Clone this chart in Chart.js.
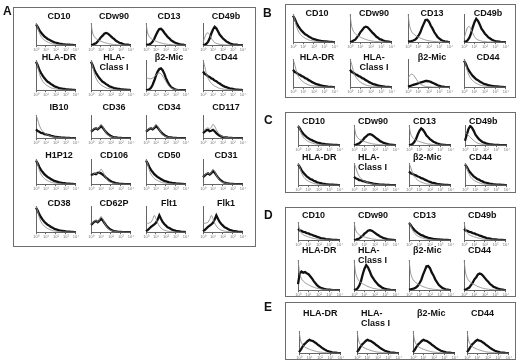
<!DOCTYPE html>
<html>
<head>
<meta charset="utf-8">
<script src="https://cdn.jsdelivr.net/npm/chart.js@4.4.0/dist/chart.umd.min.js"></script>
<style>
  body { margin: 0; background: #fff; width: 520px; height: 363px; position: relative; overflow: hidden; font-family: "Liberation Sans", Arial, sans-serif; }
  .box { position: absolute; border: 1px solid #6e6e6e; box-sizing: border-box; z-index: 0; }
  .letter { position: absolute; font-weight: bold; font-size: 12px; line-height: 12px; color: #111; z-index: 3; filter: grayscale(1); }
  .lbl { position: absolute; font-weight: bold; font-size: 9px; line-height: 10px; color: #111; white-space: pre; z-index: 3; filter: grayscale(1); }
  canvas { position: absolute; z-index: 1; }
</style>
</head>
<body>
<script>
// fluorescence channel bins (log decades)
const binLabels = ['10⁰','','','','','','10¹','','','','','','10²','','','','','','10³','','','','','','10⁴']

// isotype control curves (thin grey)
const isoDecay = [100, 80, 56, 40, 30, 23, 18, 14, 11, 8, 6, 5, 4, 3, 2.5, 2, 1.5, 1.2, 1, 0.8, 0.6, 0.4, 0.3, 0.2, 0]
const isoSpike = [100, 55, 38, 30, 25, 21, 18, 15, 12, 10, 8, 6, 5, 4, 3, 2.5, 2, 1.5, 1, 1, 0.8, 0.5, 0.4, 0.2, 0]
const isoHump = [12, 34, 52, 56, 46, 32, 20, 12, 8, 6, 4, 3, 2, 1.5, 1, 1, 0.8, 0.5, 0.4, 0.3, 0.2, 0.1, 0, 0, 0]
const isoPlateau = [42, 40, 38, 38, 40, 45, 50, 55, 57, 54, 47, 38, 28, 20, 13, 8, 5, 3, 2, 1, 0.5, 0, 0, 0, 0]
const isoBimodal = [30, 36, 42, 45, 40, 47, 60, 52, 37, 25, 16, 10, 7, 5, 3, 2, 1.5, 1, 0.5, 0.3, 0.2, 0, 0, 0, 0]
const isoFlt = [34, 34, 35, 38, 48, 64, 52, 35, 24, 16, 11, 8, 6, 4, 3, 2, 1.5, 1, 0.5, 0.3, 0, 0, 0, 0, 0]
const isoHumpLow = [30, 42, 46, 44, 36, 26, 18, 12, 8, 5, 3, 2, 1.5, 1, 0.5, 0.3, 0, 0, 0, 0, 0, 0, 0, 0, 0]
const isoDecayMid = [62, 57, 48, 40, 31, 23, 16, 11, 8, 6, 4, 3, 2, 1.5, 1, 0.8, 0.5, 0.3, 0.2, 0, 0, 0, 0, 0, 0]

// stained curves (thick black)
const posDecay = [94, 83, 68, 57, 48, 40, 34, 28, 25, 20, 17, 13, 11, 9, 7, 6, 4.5, 4, 3, 2.5, 2, 1.5, 1, 0.6, 0.3]
const posDecayBroad = [62, 54, 51, 46, 44, 39, 37, 32, 30, 25, 22, 18, 15, 12, 10, 8, 6, 5, 4, 3, 2, 1.5, 1, 0.6, 0.3]
const posDecayLow = [38, 31, 28, 23, 22, 18, 17, 14, 13, 10, 9, 7, 6, 5, 4, 3, 2.5, 2, 1.5, 1, 0.8, 0.5, 0.3, 0.2, 0]
const posPeak8 = [0, 2, 6, 9, 17, 25, 36, 43, 52, 55, 53, 47, 40, 33, 27, 20, 16, 11, 9, 6, 4, 3, 2, 1, 0.5]
const posPeak7 = [1, 2, 4, 8, 16, 29, 46, 61, 73, 74, 67, 56, 47, 37, 31, 23, 18, 13, 10, 7, 5, 3, 2, 1, 0.5]
const posPeak6 = [0, 2, 6, 15, 30, 53, 71, 83, 76, 63, 48, 39, 30, 24, 17, 13, 9, 6, 4, 3, 2, 1, 0.5, 0, 0]
const posPeak10 = [2, 3, 4, 6, 9, 14, 23, 34, 51, 65, 79, 80, 73, 59, 49, 36, 27, 18, 13, 8, 5, 3, 2, 1, 0.5]
const posPeakB = [0, 1, 3, 8, 18, 32, 48, 62, 70, 72, 66, 55, 40, 28, 18, 11, 7, 4, 2, 1, 0.5, 0, 0, 0, 0]
const posPeak3 = [22, 52, 80, 95, 87, 71, 52, 41, 30, 23, 16, 13, 9, 7, 5, 4, 3, 2, 1.5, 1, 0.5, 0.3, 0, 0, 0]
const posBimodal = [28, 34, 40, 43, 38, 44, 52, 46, 36, 27, 19, 14, 9, 6, 4, 3, 2, 1.5, 1, 0.5, 0.3, 0.2, 0, 0, 0]
const posBimodalLow = [22, 28, 34, 36, 30, 32, 36, 30, 22, 16, 11, 8, 5, 4, 3, 2, 1.5, 1, 0.5, 0.3, 0, 0, 0, 0, 0]
const posHumpLeft = [34, 39, 42, 40, 45, 46, 43, 38, 33, 26, 21, 15, 12, 8, 6, 4, 3, 2, 1.5, 1, 0.5, 0.3, 0, 0, 0]
const posFlt = [4, 8, 14, 20, 25, 30, 36, 48, 64, 51, 39, 31, 25, 19, 16, 12, 9, 7, 5, 4, 3, 2, 1.5, 1, 0.5]
const posBroadLow = [2, 4, 6, 8, 10, 12, 14, 16, 18, 20, 22, 22, 21, 19, 16, 13, 10, 7, 5, 3, 2, 1, 0.5, 0, 0]
const posPlateau = [20, 55, 62, 58, 60, 56, 53, 46, 39, 30, 23, 16, 11, 8, 6, 4, 3, 2, 1.5, 1, 0.5, 0.3, 0, 0, 0]
const posPeakE = [5, 15, 29, 40, 47, 55, 60, 57, 55, 49, 44, 37, 32, 25, 20, 15, 11, 8, 6, 4, 3, 2, 1, 0.5, 0]

// panel A
const markersA = ['CD10', 'CDw90', 'CD13', 'CD49b', 'HLA-DR', 'HLA-\nClass I', 'β2-Mic', 'CD44',
  'IB10', 'CD36', 'CD34', 'CD117', 'H1P12', 'CD106', 'CD50', 'CD31', 'CD38', 'CD62P', 'Flt1', 'Flk1']
const isoA = [isoDecay, isoSpike, isoSpike, isoHump, isoDecay, isoDecay, isoPlateau, isoDecay,
  isoDecay, isoBimodal, isoBimodal, isoBimodal, isoDecay, isoBimodal, isoDecay, isoBimodal, isoDecay, isoBimodal, isoFlt, isoFlt]
const stainedA = [posDecay, posPeak8, posPeak7, posPeak6, posDecay, posDecay, posPeakB, posDecayBroad,
  posDecayLow, posBimodal, posBimodal, posBimodalLow, posDecay, posHumpLeft, posDecay, posBimodal, posDecay, posBimodal, posFlt, posFlt]

// panels B, C, D share the same marker set
const markersBCD = ['CD10', 'CDw90', 'CD13', 'CD49b', 'HLA-DR', 'HLA-\nClass I', 'β2-Mic', 'CD44']
const isoB = [isoDecay, isoSpike, isoSpike, isoHump, isoDecay, isoDecay, isoHumpLow, isoDecay]
const stainedB = [posDecay, posPeak8, posPeak10, posPeak6, posDecayBroad, posDecayBroad, posBroadLow, posDecay]
const isoC = [isoDecay, isoSpike, isoSpike, isoDecayMid, isoDecay, isoDecay, isoDecay, isoDecay]
const stainedC = [posDecay, posPeak8, posPeak6, posPeak3, posDecay, posDecayLow, posDecayBroad, posDecay]
const isoD = [isoSpike, isoSpike, isoDecay, isoSpike, isoSpike, isoSpike, isoSpike, isoSpike]
const stainedD = [posDecayBroad, posPeak8, posDecay, posDecayBroad, posPlateau, posPeak6, posPeak10, posPeak8]

// panel E
const markersE = ['HLA-DR', 'HLA-\nClass I', 'β2-Mic', 'CD44']
const isoE = [isoSpike, isoSpike, isoSpike, isoSpike]
const stainedE = [posPeakE, posPeakE, posPeakE, posPeakE]

// layout of the figure
const panels = [
  { letter: 'A', lx: 3, ly: 5, box: [13, 7, 243, 240], cols: [36, 91, 146, 203], w: 40, align: 'center',
    rows: [{ label: 16, axis: 45, h: 22 }, { label: 57, axis: 90, h: 30 }, { label: 107, axis: 138, h: 23 },
           { label: 155, axis: 184, h: 25 }, { label: 203, axis: 232, h: 26 }],
    markers: markersA, iso: isoA, stained: stainedA },
  { letter: 'B', lx: 263, ly: 7, box: [285, 4, 231, 94], cols: [293, 350, 408, 464], w: 42, align: 'center',
    rows: [{ label: 13, axis: 42, h: 28 }, { label: 57, axis: 87, h: 28 }],
    markers: markersBCD, iso: isoB, stained: stainedB },
  { letter: 'C', lx: 264, ly: 114, box: [285, 112, 231, 81], cols: [298, 354, 409, 465], w: 42, align: 'left',
    rows: [{ label: 121, axis: 145, h: 20 }, { label: 157, axis: 185, h: 22 }],
    markers: markersBCD, iso: isoC, stained: stainedC },
  { letter: 'D', lx: 264, ly: 209, box: [285, 207, 231, 90], cols: [298, 354, 409, 464], w: 42, align: 'left',
    rows: [{ label: 215, axis: 240, h: 18 }, { label: 250, axis: 290, h: 30 }],
    markers: markersBCD, iso: isoD, stained: stainedD },
  { letter: 'E', lx: 264, ly: 301, box: [285, 302, 231, 58], cols: [299, 357, 413, 467], w: 42, align: 'left',
    rows: [{ label: 313, axis: 353, h: 22 }],
    markers: markersE, iso: isoE, stained: stainedE }
]

const addDiv = (cls, text, x, y) => {
  const d = document.createElement('div')
  d.className = cls
  d.textContent = text
  d.style.left = x + 'px'
  d.style.top = y + 'px'
  document.body.appendChild(d)
  return d
}

const histoConfig = (iso, stained) => ({
  type: 'line',
  data: {
    labels: binLabels,
    datasets: [
      { data: iso, borderColor: '#8c8c8c', borderWidth: 0.9, pointRadius: 0, tension: 0.25, fill: false },
      { data: stained, borderColor: '#111', borderWidth: 2.3, pointRadius: 0, tension: 0, fill: false },
    ],
  },
  options: {
    responsive: false,
    maintainAspectRatio: false,
    animation: false,
    events: [],
    layout: { padding: { left: 1, right: 1, top: 0, bottom: 0 } },
    plugins: { legend: { display: false }, tooltip: { enabled: false } },
    scales: {
      x: {
        offset: false,
        border: { color: '#666', width: 1 },
        grid: {
          drawOnChartArea: false,
          drawTicks: true,
          tickLength: 2,
          color: (ctx) => (binLabels[ctx.index] ? '#666' : 'rgba(0,0,0,0)'),
        },
        ticks: { autoSkip: false, maxRotation: 0, padding: 0, font: { size: 4 }, color: '#777' },
      },
      y: {
        min: 0,
        max: 100,
        ticks: { display: false },
        grid: { display: false },
        border: { color: '#666', width: 1 },
      },
    },
  },
})

const drawHisto = (axisX, axisY, w, h, iso, stained) => {
  const c = document.createElement('canvas')
  document.body.appendChild(c)
  let cw = w + 8
  let ch = h + 9
  let chart
  for (let pass = 0; pass < 2; pass++) {
    c.width = cw
    c.height = ch
    c.style.width = cw + 'px'
    c.style.height = ch + 'px'
    chart = new Chart(c, histoConfig(iso, stained))
    if (pass === 0) {
      const a = chart.chartArea
      cw += Math.round(w - (a.right - a.left))
      ch += Math.round(h - (a.bottom - a.top))
      chart.destroy()
    }
  }
  const a = chart.chartArea
  c.style.left = (axisX - a.left) + 'px'
  c.style.top = (axisY - a.bottom) + 'px'
}

panels.forEach((p) => {
  const b = document.createElement('div')
  b.className = 'box'
  b.style.left = p.box[0] + 'px'
  b.style.top = p.box[1] + 'px'
  b.style.width = p.box[2] + 'px'
  b.style.height = p.box[3] + 'px'
  document.body.appendChild(b)
  addDiv('letter', p.letter, p.lx, p.ly)

  p.markers.forEach((m, i) => {
    const row = p.rows[Math.floor(i / p.cols.length)]
    const x = p.cols[i % p.cols.length]
    drawHisto(x, row.axis, p.w, row.h, p.iso[i], p.stained[i])
    const d = addDiv('lbl', m, 0, row.label - 5)
    if (p.align === 'center') {
      d.style.left = (x + p.w / 2 + 3) + 'px'
      d.style.transform = 'translateX(-50%)'
      d.style.textAlign = 'center'
    } else {
      d.style.left = (x + 4) + 'px'
    }
  })
})
</script>
</body>
</html>
